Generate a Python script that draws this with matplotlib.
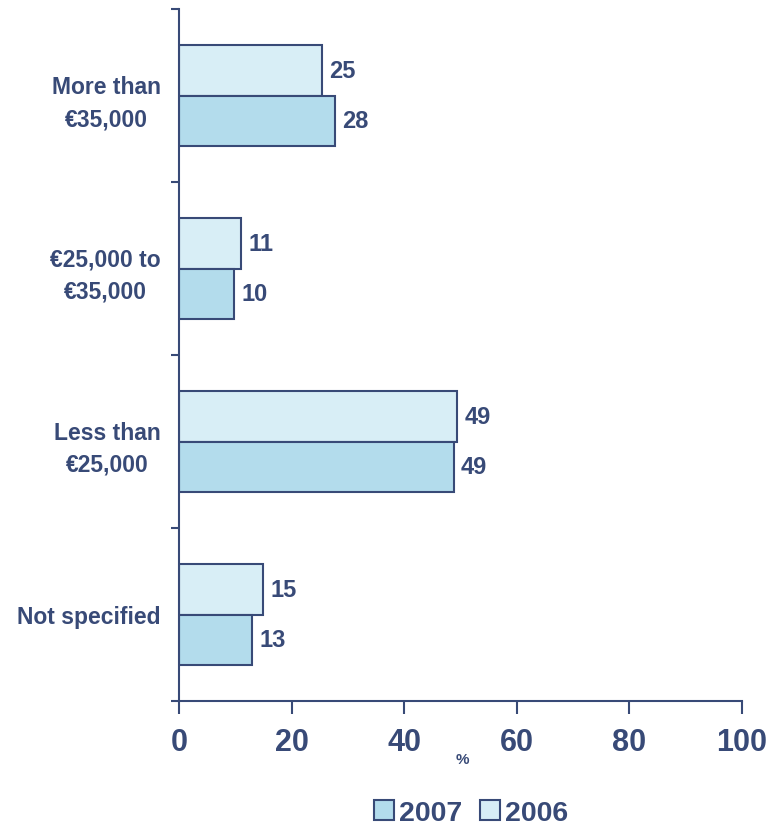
import matplotlib
matplotlib.use("Agg")
import matplotlib.pyplot as plt
from matplotlib.patches import Patch
import numpy as np

categories = ["More than\n€35,000", "€25,000 to\n€35,000", "Less than\n€25,000", "Not specified"]
values_2006 = [25.4, 11.0, 49.4, 14.9]
values_2007 = [27.7, 9.8, 48.8, 13.0]
series_names = ["2007", "2006"]
x_ticks = [0, 20, 40, 60, 80, 100]

navy = "#384a77"
c2007 = "#b3dcec"
c2006 = "#d8eef6"

plt.rcParams['font.family'] = ['Liberation Sans', 'DejaVu Sans']
plt.rcParams['font.weight'] = 'bold'

fig = plt.figure(figsize=(7.7, 8.28), dpi=100)
ax = fig.add_axes([179/770, 1-702/828, (742-179)/770, (702-10)/828])

y = np.arange(len(categories))
h = 0.29
ax.barh(y - h/2, values_2006, height=h, color=c2006, edgecolor=navy, linewidth=1.5)
ax.barh(y + h/2, values_2007, height=h, color=c2007, edgecolor=navy, linewidth=1.5)

for yi, v in zip(y, values_2006):
    ax.text(v + 1.3, yi - h/2, f"{v:.0f}", va='center', ha='left', fontsize=17,
            fontweight='bold', color=navy)
for yi, v in zip(y, values_2007):
    ax.text(v + 1.3, yi + h/2, f"{v:.0f}", va='center', ha='left', fontsize=17,
            fontweight='bold', color=navy)

ax.set_xlim(0, 100)
ax.set_ylim(len(categories) - 0.5, -0.5)

ax.set_xticks(x_ticks)
ax.set_xticklabels([str(t) for t in x_ticks], fontsize=22, fontweight='bold', color=navy)
ax.tick_params(axis='x', direction='out', length=9, width=1.5, color=navy, pad=10)

ax.set_yticks(np.arange(-0.5, len(categories) + 0.5, 1.0))
ax.set_yticklabels([])
ax.tick_params(axis='y', which='major', direction='out', length=6, width=1.5, color=navy)
ax.set_yticks(y, minor=True)
ax.set_yticklabels(categories, minor=True, fontsize=16.5, fontweight='bold', color=navy,
                   multialignment='center', linespacing=1.5)
ax.tick_params(axis='y', which='minor', length=0, pad=13)

for s in ['top', 'right']:
    ax.spines[s].set_visible(False)
for s in ['left', 'bottom']:
    ax.spines[s].set_color(navy)
    ax.spines[s].set_linewidth(1.5)

fig.text(462/770, 1-760/828, "%", ha='center', va='center', fontsize=11,
         fontweight='bold', color=navy)

handles = [Patch(facecolor=c2007, edgecolor=navy, linewidth=1.5),
           Patch(facecolor=c2006, edgecolor=navy, linewidth=1.5)]
fig.legend(handles, series_names, loc='center', bbox_to_anchor=(471/770, 1-814/828),
           ncol=2, frameon=False, handlelength=0.7, handleheight=0.7, handletextpad=0.2,
           columnspacing=0.6, prop={'size': 20.5, 'weight': 'bold'}, labelcolor=navy)

fig.savefig("out.png", dpi=100)
